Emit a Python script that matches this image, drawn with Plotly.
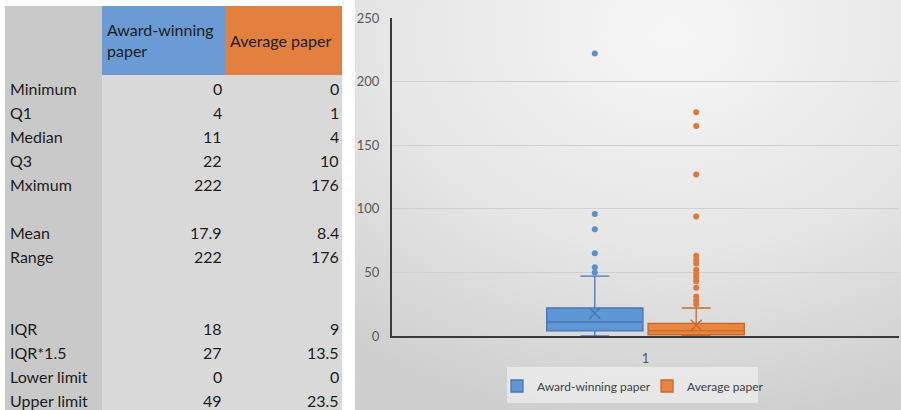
import base64
import plotly.graph_objects as go

# ---- summary table ----
row_labels = ["Minimum", "Q1", "Median", "Q3", "Mximum", "", "Mean", "Range",
              "", "", "IQR", "IQR*1.5", "Lower limit", "Upper limit"]
award_stats = [0, 4, 11, 22, 222, None, 17.9, 222, None, None, 18, 27, 0, 49]
average_stats = [0, 1, 4, 10, 176, None, 8.4, 176, None, None, 9, 13.5, 0, 23.5]
table_headers = ["Award-winning<br>paper", "Average paper"]

# ---- box plot ----
categories = ["1"]
series_names = ["Award-winning paper", "Average paper"]
box_q1 = [4, 1]
box_median = [11, 4]
box_q3 = [22, 10]
box_lower = [0, 0]
box_upper = [47, 22]
box_mean = [17.9, 8.4]
outliers_award = [222, 96, 84, 65, 54, 50]
outliers_average = [176, 165, 127, 94, 63, 60, 57, 52, 49, 46, 43, 38, 31, 28, 25]
y_ticks = [0, 50, 100, 150, 200, 250]

W, H = 901, 410
FONT = "Lato"

fill_colors = ["#5f97d6", "#e8843f"]
line_colors = ["#4876b3", "#c8692a"]
point_colors = ["#5a8fd0", "#e1783a"]
header_colors = ["#6a9bd4", "#e4803f"]
group_offsets = [-0.1, 0.1]
box_w = 0.19

# table geometry (pixels across, rows down)
COL_EDGES = [5, 102, 225, 342]
ROW0_CENTER = 88.0
ROW_PITCH = 24.0
TABLE_TOP = 6.0
HEADER_BOTTOM = 75.0
HEADER_TEXT_Y = 40.0
label_gray = "#c9c9c9"
cell_gray = "#d9d9d9"
text_dark = "#1c1c1c"


def fmt(v):
    if v is None:
        return ""
    return f"{v:g}"


def row_of(px):
    return (px - ROW0_CENTER) / ROW_PITCH


fig = go.Figure()

series = [(outliers_award, 0), (outliers_average, 1)]
for outs, i in series:
    xc = 1 + group_offsets[i]
    fig.add_trace(go.Box(
        name=series_names[i],
        x=[xc],
        q1=[box_q1[i]], median=[box_median[i]], q3=[box_q3[i]],
        lowerfence=[box_lower[i]], upperfence=[box_upper[i]],
        width=box_w,
        whiskerwidth=0.3,
        fillcolor=fill_colors[i],
        line=dict(color=line_colors[i], width=1.3),
        boxpoints=False,
        showlegend=True,
        hoverinfo="skip",
    ))
    fig.add_trace(go.Scatter(
        x=[xc] * len(outs), y=outs, mode="markers",
        marker=dict(size=6, color=point_colors[i]),
        showlegend=False, hoverinfo="skip",
    ))
    fig.add_trace(go.Scatter(
        x=[xc], y=[box_mean[i]], mode="markers",
        marker=dict(symbol="x-thin-open", size=11, color=line_colors[i],
                    line=dict(color=line_colors[i], width=1.3)),
        showlegend=False, hoverinfo="skip",
    ))

# invisible anchor trace so the table subplot exists
fig.add_trace(go.Scatter(x=[None], y=[None], xaxis="x2", yaxis="y2",
                         showlegend=False, hoverinfo="skip"))

n_rows = len(row_labels)
top_r = row_of(TABLE_TOP)
hdr_bottom = row_of(HEADER_BOTTOM)
bottom_r = row_of(H) + 1

shapes = [
    dict(type="rect", xref="x2", yref="y2", x0=COL_EDGES[0], x1=COL_EDGES[1],
         y0=top_r, y1=bottom_r, fillcolor=label_gray, line=dict(width=0), layer="below"),
    dict(type="rect", xref="x2", yref="y2", x0=COL_EDGES[1], x1=COL_EDGES[3],
         y0=hdr_bottom, y1=bottom_r, fillcolor=cell_gray, line=dict(width=0), layer="below"),
    # legend panel
    dict(type="rect", xref="paper", yref="paper", x0=507 / W, x1=758 / W,
         y0=(H - 403) / H, y1=(H - 367) / H, fillcolor="rgba(238,238,238,0.75)",
         line=dict(width=0), layer="below"),
]
for c in range(2):
    shapes.append(dict(type="rect", xref="x2", yref="y2",
                       x0=COL_EDGES[c + 1], x1=COL_EDGES[c + 2],
                       y0=top_r, y1=hdr_bottom, fillcolor=header_colors[c],
                       line=dict(width=0), layer="below"))

annotations = []
tfont = dict(family=FONT, size=16, color=text_dark)
for c, txt in enumerate(table_headers):
    annotations.append(dict(xref="x2", yref="y2", x=COL_EDGES[c + 1] + 3,
                            y=row_of(HEADER_TEXT_Y),
                            text=txt, showarrow=False, xanchor="left", yanchor="middle",
                            align="left", font=tfont))
for r in range(n_rows):
    if row_labels[r]:
        annotations.append(dict(xref="x2", yref="y2", x=COL_EDGES[0] + 3, y=r,
                                text=row_labels[r], showarrow=False,
                                xanchor="left", yanchor="middle", font=tfont))
    for c, col in enumerate([award_stats, average_stats]):
        s = fmt(col[r])
        if s:
            annotations.append(dict(xref="x2", yref="y2", x=COL_EDGES[c + 2] - 1, y=r,
                                    text=s, showarrow=False,
                                    xanchor="right", yanchor="middle", font=tfont))

# soft gradient backdrop for the chart panel
svg = (
    "<svg xmlns='http://www.w3.org/2000/svg' width='546' height='410'>"
    "<defs><radialGradient id='g' cx='0.58' cy='0.08' r='0.95'>"
    "<stop offset='0' stop-color='#f6f6f6'/>"
    "<stop offset='0.55' stop-color='#e6e6e6'/>"
    "<stop offset='1' stop-color='#cfcfcf'/>"
    "</radialGradient></defs>"
    "<rect width='546' height='410' fill='url(#g)'/></svg>"
)
svg_uri = "data:image/svg+xml;base64," + base64.b64encode(svg.encode()).decode()

fig.update_layout(
    width=W, height=H,
    margin=dict(l=0, r=0, t=0, b=0, pad=0, autoexpand=False),
    paper_bgcolor="white",
    plot_bgcolor="rgba(0,0,0,0)",
    font=dict(family=FONT, color="#595959"),
    boxmode="overlay",
    shapes=shapes,
    annotations=annotations,
    images=[dict(
        source=svg_uri, xref="paper", yref="paper",
        x=355 / W, y=1, sizex=546 / W, sizey=1,
        xanchor="left", yanchor="top", sizing="stretch", layer="below",
    )],
    xaxis=dict(
        domain=[392 / W, 899 / W],
        range=[0.5, 1.5],
        tickvals=[1], ticktext=categories,
        showgrid=False, zeroline=False, automargin=False,
        showline=True, linecolor="#3a3a3a", linewidth=2,
        ticks="", ticklabelstandoff=9,
        tickfont=dict(size=13, color="#595959"),
    ),
    yaxis=dict(
        domain=[(H - 336) / H, (H - 18) / H],
        range=[0, 250],
        tickvals=y_ticks, automargin=False,
        showgrid=True, gridcolor="#d0d0d0", gridwidth=1,
        zeroline=False,
        showline=True, linecolor="#3a3a3a", linewidth=2,
        ticks="", ticklabelstandoff=8,
        tickfont=dict(size=13, color="#595959"),
    ),
    xaxis2=dict(domain=[0, 1], range=[0, W], visible=False, anchor="y2",
                fixedrange=True, automargin=False),
    yaxis2=dict(domain=[0, 1], range=[row_of(H), row_of(0)], visible=False,
                anchor="x2", fixedrange=True, automargin=False),
    legend=dict(
        orientation="h",
        x=647 / W, xanchor="center",
        y=(H - 386) / H, yanchor="middle",
        bgcolor="rgba(0,0,0,0)",
        font=dict(size=12, color="#404040"),
        itemwidth=30,
        entrywidth=105,
        entrywidthmode="pixels",
    ),
)

fig.write_html("out.html")
